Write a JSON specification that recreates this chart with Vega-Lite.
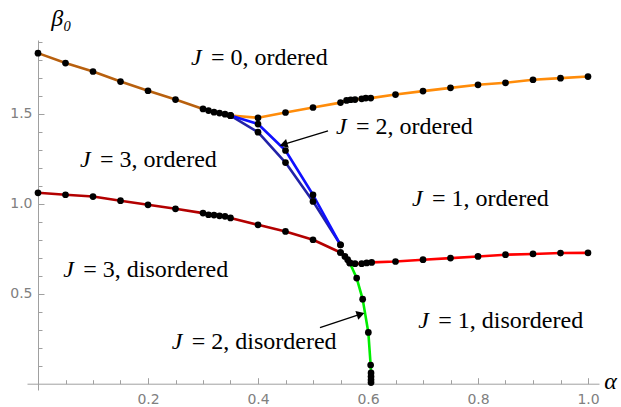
{
  "$schema": "https://vega.github.io/schema/vega-lite/v6.json",
  "width": 572,
  "height": 350,
  "autosize": {"type": "none"},
  "padding": {"left": 27, "top": 40, "right": 22, "bottom": 17},
  "background": "white",
  "config": {"view": {"stroke": null}},
  "datasets": {
    "curves": [
      {"s": "brown", "k": 0, "a": 0, "b": 1.837},
      {"s": "brown", "k": 1, "a": 0.05, "b": 1.782},
      {"s": "brown", "k": 2, "a": 0.1, "b": 1.735},
      {"s": "brown", "k": 3, "a": 0.15, "b": 1.679},
      {"s": "brown", "k": 4, "a": 0.2, "b": 1.628},
      {"s": "brown", "k": 5, "a": 0.25, "b": 1.579},
      {"s": "brown", "k": 6, "a": 0.3, "b": 1.527},
      {"s": "brown", "k": 7, "a": 0.31, "b": 1.518},
      {"s": "brown", "k": 8, "a": 0.32, "b": 1.509},
      {"s": "brown", "k": 9, "a": 0.33, "b": 1.504},
      {"s": "brown", "k": 10, "a": 0.34, "b": 1.498},
      {"s": "brown", "k": 11, "a": 0.35, "b": 1.49},
      {"s": "orange", "k": 0, "a": 0.35, "b": 1.49},
      {"s": "orange", "k": 1, "a": 0.4, "b": 1.478},
      {"s": "orange", "k": 2, "a": 0.45, "b": 1.507},
      {"s": "orange", "k": 3, "a": 0.5, "b": 1.535},
      {"s": "orange", "k": 4, "a": 0.55, "b": 1.562},
      {"s": "orange", "k": 5, "a": 0.561, "b": 1.574},
      {"s": "orange", "k": 6, "a": 0.5685, "b": 1.578},
      {"s": "orange", "k": 7, "a": 0.5764, "b": 1.579},
      {"s": "orange", "k": 8, "a": 0.5885, "b": 1.583},
      {"s": "orange", "k": 9, "a": 0.596, "b": 1.587},
      {"s": "orange", "k": 10, "a": 0.605, "b": 1.587},
      {"s": "orange", "k": 11, "a": 0.65, "b": 1.607},
      {"s": "orange", "k": 12, "a": 0.7, "b": 1.626},
      {"s": "orange", "k": 13, "a": 0.75, "b": 1.644},
      {"s": "orange", "k": 14, "a": 0.8, "b": 1.661},
      {"s": "orange", "k": 15, "a": 0.85, "b": 1.672},
      {"s": "orange", "k": 16, "a": 0.9, "b": 1.689},
      {"s": "orange", "k": 17, "a": 0.95, "b": 1.698},
      {"s": "orange", "k": 18, "a": 1.0, "b": 1.707},
      {"s": "navy", "k": 0, "a": 0.35, "b": 1.49},
      {"s": "navy", "k": 1, "a": 0.4, "b": 1.398},
      {"s": "navy", "k": 2, "a": 0.45, "b": 1.229},
      {"s": "navy", "k": 3, "a": 0.5, "b": 1.013},
      {"s": "navy", "k": 4, "a": 0.55, "b": 0.772},
      {"s": "blue", "k": 0, "a": 0.35, "b": 1.49},
      {"s": "blue", "k": 1, "a": 0.4, "b": 1.443},
      {"s": "blue", "k": 2, "a": 0.45, "b": 1.296},
      {"s": "blue", "k": 3, "a": 0.5, "b": 1.05},
      {"s": "blue", "k": 4, "a": 0.55, "b": 0.772},
      {"s": "darkred", "k": 0, "a": 0, "b": 1.061},
      {"s": "darkred", "k": 1, "a": 0.05, "b": 1.05},
      {"s": "darkred", "k": 2, "a": 0.1, "b": 1.04},
      {"s": "darkred", "k": 3, "a": 0.15, "b": 1.017},
      {"s": "darkred", "k": 4, "a": 0.2, "b": 0.994},
      {"s": "darkred", "k": 5, "a": 0.25, "b": 0.972},
      {"s": "darkred", "k": 6, "a": 0.3, "b": 0.948},
      {"s": "darkred", "k": 7, "a": 0.31, "b": 0.939},
      {"s": "darkred", "k": 8, "a": 0.32, "b": 0.937},
      {"s": "darkred", "k": 9, "a": 0.33, "b": 0.933},
      {"s": "darkred", "k": 10, "a": 0.34, "b": 0.93},
      {"s": "darkred", "k": 11, "a": 0.35, "b": 0.921},
      {"s": "darkred", "k": 12, "a": 0.4, "b": 0.883},
      {"s": "darkred", "k": 13, "a": 0.45, "b": 0.846},
      {"s": "darkred", "k": 14, "a": 0.5, "b": 0.8},
      {"s": "darkred", "k": 15, "a": 0.55, "b": 0.729},
      {"s": "red", "k": 0, "a": 0.55, "b": 0.729},
      {"s": "red", "k": 1, "a": 0.558, "b": 0.707},
      {"s": "red", "k": 2, "a": 0.563, "b": 0.689},
      {"s": "red", "k": 3, "a": 0.567, "b": 0.671},
      {"s": "red", "k": 4, "a": 0.5764, "b": 0.667},
      {"s": "red", "k": 5, "a": 0.5885, "b": 0.667},
      {"s": "red", "k": 6, "a": 0.5976, "b": 0.671},
      {"s": "red", "k": 7, "a": 0.6067, "b": 0.674},
      {"s": "red", "k": 8, "a": 0.65, "b": 0.679},
      {"s": "red", "k": 9, "a": 0.7, "b": 0.689},
      {"s": "red", "k": 10, "a": 0.75, "b": 0.698},
      {"s": "red", "k": 11, "a": 0.8, "b": 0.707},
      {"s": "red", "k": 12, "a": 0.85, "b": 0.717},
      {"s": "red", "k": 13, "a": 0.9, "b": 0.721},
      {"s": "red", "k": 14, "a": 0.95, "b": 0.726},
      {"s": "red", "k": 15, "a": 1.0, "b": 0.727},
      {"s": "green", "k": 0, "a": 0.567, "b": 0.671},
      {"s": "green", "k": 1, "a": 0.5794, "b": 0.587},
      {"s": "green", "k": 2, "a": 0.5903, "b": 0.47},
      {"s": "green", "k": 3, "a": 0.6006, "b": 0.285},
      {"s": "green", "k": 4, "a": 0.6048, "b": 0.104},
      {"s": "green", "k": 5, "a": 0.6055, "b": 0.06},
      {"s": "green", "k": 6, "a": 0.6055, "b": 0.04},
      {"s": "green", "k": 7, "a": 0.6055, "b": 0.022},
      {"s": "green", "k": 8, "a": 0.6055, "b": 0.006}
    ],
    "labels": [
      {"a": 0.278, "b": 1.771, "t": "= 0, ordered"},
      {"a": 0.0764, "b": 1.206, "t": "= 3, ordered"},
      {"a": 0.5418, "b": 1.389, "t": "= 2, ordered"},
      {"a": 0.68, "b": 0.988, "t": "= 1, ordered"},
      {"a": 0.046, "b": 0.591, "t": "= 3, disordered"},
      {"a": 0.2431, "b": 0.191, "t": "= 2, disordered"},
      {"a": 0.6915, "b": 0.309, "t": "= 1, disordered"}
    ],
    "arrows": [
      {"id": 1, "a": 0.5273, "b": 1.4056, "a2": 0.4465, "b2": 1.3294},
      {"id": 2, "a": 0.5127, "b": 0.3111, "a2": 0.5866, "b2": 0.3862}
    ],
    "heads": [
      {"id": 1, "a": 0.4465, "b": 1.3294},
      {"id": 2, "a": 0.5866, "b": 0.3862}
    ]
  },
  "encoding": {
    "x": {
      "field": "a", "type": "quantitative",
      "scale": {"domain": [-0.02, 1.02], "nice": false, "zero": false},
      "axis": {
        "values": [0.05, 0.1, 0.15, 0.2, 0.25, 0.3, 0.35, 0.4, 0.45, 0.5, 0.55, 0.6, 0.65, 0.7, 0.75, 0.8, 0.85, 0.9, 0.95, 1.0],
        "labelExpr": "abs(datum.value*5-round(datum.value*5))<0.001 ? format(datum.value,'.1f') : ''",
        "offset": -6.3,
        "grid": false,
        "domainColor": "#a0a0a0", "domainWidth": 1,
        "tickColor": "#a0a0a0", "tickWidth": 1,
        "tickSize": {"condition": {"test": "abs(datum.value*5-round(datum.value*5))<0.001", "value": -6}, "value": -4},
        "labelPadding": 15,
        "labelColor": "#808080", "labelFont": "DejaVu Sans", "labelFontSize": 14,
        "labelFlush": false, "labelOverlap": false, "labelBound": false,
        "title": "α", "titleFont": "Liberation Serif", "titleFontSize": 24, "titleFontStyle": "italic", "titleFontWeight": "normal", "titleColor": "black",
        "titleX": 583, "titleY": 4.3, "titleAlign": "center", "titleBaseline": "alphabetic", "titleAngle": 0
      }
    },
    "y": {
      "field": "b", "type": "quantitative",
      "scale": {"domain": [-0.035, 1.91], "nice": false, "zero": false},
      "axis": {
        "values": [0.1, 0.2, 0.3, 0.4, 0.5, 0.6, 0.7, 0.8, 0.9, 1.0, 1.1, 1.2, 1.3, 1.4, 1.5, 1.6, 1.7, 1.8, 1.9],
        "labelExpr": "abs(datum.value*2-round(datum.value*2))<0.001 ? format(datum.value,'.1f') : ''",
        "offset": -11,
        "grid": false,
        "domainColor": "#a0a0a0", "domainWidth": 1,
        "tickColor": "#a0a0a0", "tickWidth": 1,
        "tickSize": {"condition": {"test": "abs(datum.value*2-round(datum.value*2))<0.001", "value": -6}, "value": -4},
        "labelPadding": 12,
        "labelColor": "#808080", "labelFont": "DejaVu Sans", "labelFontSize": 14,
        "labelFlush": false, "labelOverlap": false, "labelBound": false,
        "title": "β₀", "titleFont": "Liberation Serif", "titleFontSize": 24, "titleFontStyle": "italic", "titleFontWeight": "normal", "titleColor": "black",
        "titleX": 23, "titleY": -15, "titleAlign": "center", "titleBaseline": "alphabetic", "titleAngle": 0
      }
    }
  },
  "layer": [
    {
      "data": {"name": "curves"},
      "mark": {"type": "line", "strokeWidth": 2.6, "strokeJoin": "round", "strokeCap": "round"},
      "encoding": {
        "color": {
          "field": "s", "type": "nominal",
          "scale": {"domain": ["brown", "orange", "navy", "blue", "darkred", "red", "green"],
                    "range": ["#B8600E", "#FF8C0A", "#2222A8", "#1010FF", "#B30000", "#FF0000", "#00EE00"]},
          "legend": null
        },
        "order": {"field": "k", "type": "quantitative"}
      }
    },
    {
      "data": {"name": "curves"},
      "mark": {"type": "point", "filled": true, "color": "black", "size": 45, "opacity": 1}
    },
    {
      "data": {"name": "arrows"},
      "mark": {"type": "rule", "color": "black", "strokeWidth": 1.3},
      "encoding": {"x2": {"field": "a2"}, "y2": {"field": "b2"}}
    },
    {
      "data": {"name": "heads"},
      "transform": [{"filter": "datum.id == 1"}],
      "mark": {"type": "point", "shape": "triangle-up", "filled": true, "color": "black", "size": 85, "opacity": 1, "angle": 253}
    },
    {
      "data": {"name": "heads"},
      "transform": [{"filter": "datum.id == 2"}],
      "mark": {"type": "point", "shape": "triangle-up", "filled": true, "color": "black", "size": 85, "opacity": 1, "angle": 71.6}
    },
    {
      "data": {"name": "labels"},
      "mark": {"type": "text", "align": "left", "baseline": "alphabetic", "font": "Liberation Serif", "fontStyle": "italic", "fontSize": 24, "color": "black"},
      "encoding": {"text": {"value": "J"}}
    },
    {
      "data": {"name": "labels"},
      "mark": {"type": "text", "align": "left", "baseline": "alphabetic", "font": "Liberation Serif", "fontSize": 24, "dx": 20, "color": "black"},
      "encoding": {"text": {"field": "t", "type": "nominal"}}
    }
  ]
}
